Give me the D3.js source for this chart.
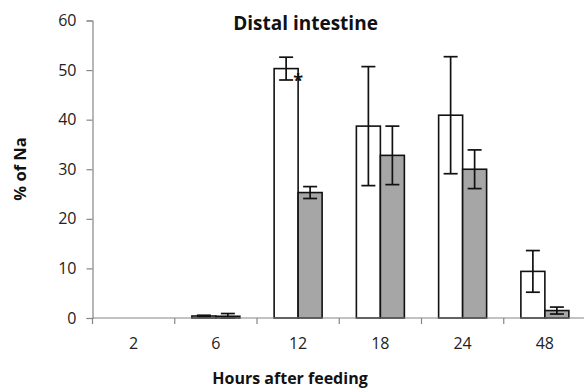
<!DOCTYPE html>
<html>
<head>
<meta charset="utf-8">
<script src="https://cdn.jsdelivr.net/npm/d3@7"></script>
<style>
  html, body { margin: 0; padding: 0; background: #fff; }
  svg { display: block; font-family: "Open Sans", "Lato", sans-serif; }
</style>
</head>
<body>
<div id="chart"></div>
<script>
// --- Distal intestine dataset ---
const hours = ["2", "6", "12", "18", "24", "48"];
const seriesNames = ["open", "filled"];
const openMeans = [0, 0.4, 50.3, 38.7, 40.9, 9.4];
const openErrors = [0, 0.15, 2.3, 12.0, 11.8, 4.2];
const filledMeans = [0, 0.35, 25.3, 32.8, 30.0, 1.5];
const filledErrors = [0, 0.55, 1.2, 5.9, 3.9, 0.7];
const yTicks = [0, 10, 20, 30, 40, 50, 60];
const starAt = { hour: "12", series: "open" };

(function(){
    const W = 584, H = 389;
    const svg = d3.select("#chart").append("svg")
        .attr("width", W)
        .attr("height", H);

    const rows = [];
    hours.forEach((h, i) => {
        rows.push({ hour: h, series: "open", mean: openMeans[i], err: openErrors[i] });
        rows.push({ hour: h, series: "filled", mean: filledMeans[i], err: filledErrors[i] });
    });

    // --- Scales ---
    const x0 = d3.scaleBand()
        .domain(hours)
        .range([92.5, 586])
        .padding(0);

    const x1 = d3.scaleBand()
        .domain(seriesNames)
        .range([0, x0.bandwidth()])
        .paddingInner(0)
        .paddingOuter(0.714);

    const y = d3.scaleLinear()
        .domain([0, 60])
        .range([318, 20.5]);

    const fill = d3.scaleOrdinal()
        .domain(seriesNames)
        .range(["#ffffff", "#a6a6a6"]);

    const axisColor = "#868686";

    // --- Y axis ---
    svg.append("g")
        .attr("transform", "translate(92.5,0)")
        .call(d3.axisLeft(y).tickValues(yTicks).tickSize(6).tickPadding(10))
        .call(g => g.select(".domain").attr("stroke", axisColor).attr("stroke-width", 1.2))
        .call(g => g.selectAll(".tick line").attr("stroke", axisColor).attr("stroke-width", 1.2))
        .call(g => g.selectAll(".tick text")
            .attr("fill", "#222")
            .style("font-size", "16px")
            .style("font-family", "'Open Sans', sans-serif"));

    // --- Bars ---
    svg.append("g")
        .selectAll("rect")
        .data(rows.filter(d => d.mean > 0))
        .join("rect")
        .attr("x", d => x0(d.hour) + x1(d.series))
        .attr("y", d => y(d.mean))
        .attr("width", x1.bandwidth())
        .attr("height", d => y(0) - y(d.mean))
        .attr("fill", d => fill(d.series))
        .attr("stroke", "#111")
        .attr("stroke-width", 1.6);

    // --- Error bars ---
    const eb = svg.append("g")
        .attr("stroke", "#111")
        .attr("stroke-width", 1.7)
        .selectAll("g")
        .data(rows.filter(d => d.mean > 0))
        .join("g")
        .attr("transform", d => `translate(${x0(d.hour) + x1(d.series) + x1.bandwidth() / 2},0)`);

    eb.append("line")
        .attr("y1", d => y(d.mean + d.err))
        .attr("y2", d => y(Math.max(0, d.mean - d.err)));
    eb.append("line")
        .attr("x1", -7).attr("x2", 7)
        .attr("y1", d => y(d.mean + d.err))
        .attr("y2", d => y(d.mean + d.err));
    eb.append("line")
        .attr("x1", -7).attr("x2", 7)
        .attr("y1", d => y(Math.max(0, d.mean - d.err)))
        .attr("y2", d => y(Math.max(0, d.mean - d.err)));

    // --- X axis (category ticks between groups) ---
    const xAxis = svg.append("g")
        .attr("transform", `translate(0,${y(0)})`);
    xAxis.append("line")
        .attr("x1", x0.range()[0]).attr("x2", x0.range()[1])
        .attr("stroke", axisColor).attr("stroke-width", 1.2);
    xAxis.selectAll(".xtick")
        .data(hours)
        .join("line")
        .attr("class", "xtick")
        .attr("x1", d => x0(d)).attr("x2", d => x0(d))
        .attr("y1", 0).attr("y2", 6)
        .attr("stroke", axisColor).attr("stroke-width", 1.2);
    xAxis.selectAll(".xlabel")
        .data(hours)
        .join("text")
        .attr("class", "xlabel")
        .attr("x", d => x0(d) + x0.bandwidth() / 2)
        .attr("y", 31)
        .attr("text-anchor", "middle")
        .attr("fill", "#222")
        .style("font-size", "16px")
        .text(d => d);

    // --- Significance mark ---
    const starRow = rows.find(d => d.hour === starAt.hour && d.series === starAt.series);
    svg.append("text")
        .attr("x", x0(starRow.hour) + x1(starRow.series) + x1.bandwidth())
        .attr("y", y(starRow.mean) + 18)
        .attr("text-anchor", "middle")
        .attr("fill", "#111")
        .style("font-size", "18px")
        .style("font-weight", "bold")
        .text("*");

    // --- Titles ---
    svg.append("text")
        .attr("x", 305.5)
        .attr("y", 29.5)
        .attr("text-anchor", "middle")
        .attr("fill", "#111")
        .style("font-size", "19px")
        .style("font-weight", "bold")
        .text("Distal intestine");

    svg.append("text")
        .attr("x", 290)
        .attr("y", 384)
        .attr("text-anchor", "middle")
        .attr("fill", "#111")
        .style("font-size", "16px")
        .style("font-weight", "bold")
        .text("Hours after feeding");

    svg.append("text")
        .attr("transform", "translate(26,169) rotate(-90)")
        .attr("text-anchor", "middle")
        .attr("fill", "#111")
        .style("font-size", "16.5px")
        .style("font-weight", "bold")
        .text("% of Na");
})();
</script>
</body>
</html>
